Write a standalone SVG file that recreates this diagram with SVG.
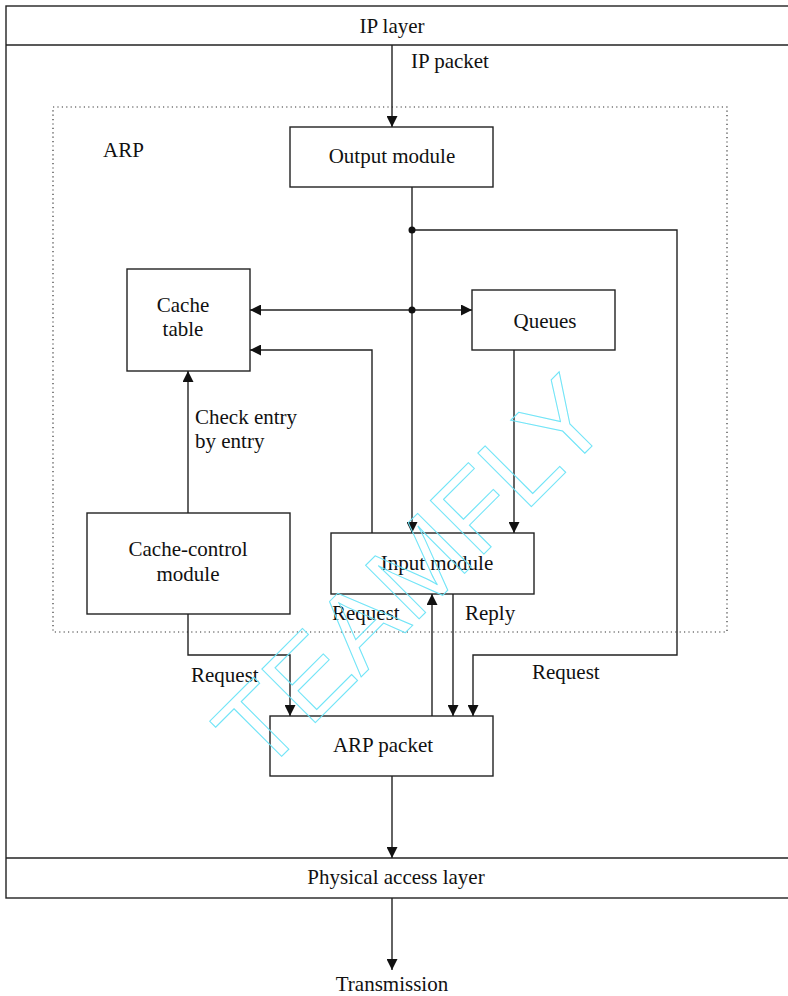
<svg xmlns="http://www.w3.org/2000/svg" width="788" height="996" viewBox="0 0 788 996">
<style>
  .box{fill:#fff;stroke:#222;stroke-width:1.4}
  .ln{fill:none;stroke:#222;stroke-width:1.4}
  .t{font-family:"Liberation Serif","Times New Roman",serif;font-size:21px;fill:#111}
  .c{text-anchor:middle}
  .dot{fill:#111}
</style>
<defs>
  <marker id="ah" viewBox="0 0 10 10" refX="10" refY="5" markerWidth="11" markerHeight="11" markerUnits="userSpaceOnUse" orient="auto-start-reverse">
    <path d="M0,0 L10,5 L0,10 z" fill="#111"/>
  </marker>
</defs>
<rect width="788" height="996" fill="#fff"/>

<g id="frame">
  <rect x="6" y="6" width="800" height="892" class="ln"/>
  <line x1="6" y1="45" x2="800" y2="45" class="ln"/>
  <line x1="6" y1="858" x2="800" y2="858" class="ln"/>
</g>
<g id="ip-layer"><text x="392" y="33" class="t c">IP layer</text></g>
<g id="physical-layer"><text x="396" y="884" class="t c">Physical access layer</text></g>

<g id="arp-region">
  <rect x="53" y="107" width="674" height="525" fill="none" stroke="#333" stroke-width="1.2" stroke-dasharray="1.2,3.2"/>
  <text x="103" y="157" class="t">ARP</text>
</g>

<g id="output-module"><rect x="290" y="127" width="203" height="60" class="box"/><text x="392" y="163" class="t c">Output module</text></g>
<g id="cache-table"><rect x="127" y="269" width="123" height="102" class="box"/><text x="183" y="312" class="t c">Cache</text><text x="183" y="336" class="t c">table</text></g>
<g id="queues"><rect x="472" y="290" width="143" height="60" class="box"/><text x="545" y="328" class="t c">Queues</text></g>
<g id="cache-control"><rect x="87" y="513" width="203" height="101" class="box"/><text x="188" y="556" class="t c">Cache-control</text><text x="188" y="581" class="t c">module</text></g>
<g id="input-module"><rect x="331" y="533" width="203" height="61" class="box"/><text x="437" y="570" class="t c">Input module</text></g>
<g id="arp-packet"><rect x="270" y="716" width="223" height="60" class="box"/><text x="383" y="752" class="t c">ARP packet</text></g>

<g id="connectors">
  <path d="M392,45 V127" class="ln" marker-end="url(#ah)"/>
  <path d="M412,187 V533" class="ln" marker-end="url(#ah)"/>
  <path d="M412,230 H677 V655 H473 V716" class="ln" marker-end="url(#ah)"/>
  <path d="M250,310 H472" class="ln" marker-start="url(#ah)" marker-end="url(#ah)"/>
  <path d="M372,533 V350 H250" class="ln" marker-end="url(#ah)"/>
  <path d="M514,350 V533" class="ln" marker-end="url(#ah)"/>
  <path d="M188,513 V371" class="ln" marker-end="url(#ah)"/>
  <path d="M188,614 V655 H290 V716" class="ln" marker-end="url(#ah)"/>
  <path d="M432,716 V594" class="ln" marker-end="url(#ah)"/>
  <path d="M453,594 V716" class="ln" marker-end="url(#ah)"/>
  <path d="M392,776 V858" class="ln" marker-end="url(#ah)"/>
  <path d="M392,898 V970" class="ln" marker-end="url(#ah)"/>
  <circle cx="412" cy="230" r="3.5" class="dot"/>
  <circle cx="412" cy="310" r="3.5" class="dot"/>
  <text x="411" y="68" class="t">IP packet</text>
  <text x="195" y="424" class="t">Check entry</text>
  <text x="195" y="448" class="t">by entry</text>
  <text x="332" y="620" class="t">Request</text>
  <text x="465" y="620" class="t">Reply</text>
  <text x="191" y="682" class="t">Request</text>
  <text x="532" y="679" class="t">Request</text>
  <text x="392" y="991" class="t c">Transmission</text>
</g>

<g id="watermark">
  <text x="438" y="600" transform="rotate(-45 438 600)" text-anchor="middle" font-family="Liberation Sans, Arial, sans-serif" font-size="110" fill="none" stroke="#6fe4f7" stroke-width="1">TEAMFLY</text>
</g>
</svg>
